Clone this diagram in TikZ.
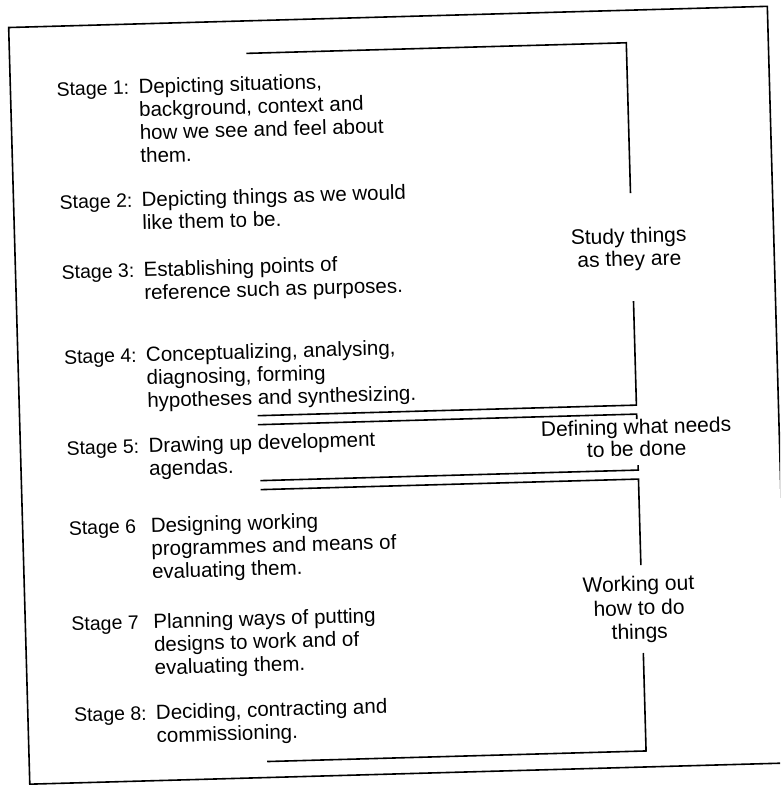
\documentclass[tikz,border=0pt]{standalone}
\usepackage{fontspec}
\setmainfont{Liberation Sans}
\begin{document}
\begin{tikzpicture}[x=1pt,y=-1pt,
  rule/.style={line width=1.6pt, line join=miter},
  txt/.style={anchor=base west, inner sep=0pt, font=\fontsize{20.5}{23}\selectfont},
  stagelabel/.style={anchor=base west, inner sep=0pt, font=\fontsize{19.5}{23}\selectfont},
  side/.style={anchor=base, inner sep=0pt, font=\fontsize{21}{24}\selectfont}]
\useasboundingbox (0,0) rectangle (780,786);
\clip (0,0) rectangle (780,786);
\begin{scope}[rotate around={1.6:(390,393)}, transform shape]
  % outer frame
  \coordinate (ftl) at (19,17);
  \coordinate (fbr) at (778,774);
  \draw[rule] (ftl) rectangle (fbr);

  % stage texts: label column and body column
  \node[stagelabel] (l1) at (65,87) {Stage 1:};
  \node[txt] (t1a) at (147,87) {Depicting situations,};
  \node[txt] (t1b) at (147,110) {background, context and};
  \node[txt] (t1c) at (147,133) {how we see and feel about};
  \node[txt] (t1d) at (147,156) {them.};

  \node[stagelabel] (l2) at (65,200) {Stage 2:};
  \node[txt] (t2a) at (147,200) {Depicting things as we would};
  \node[txt] (t2b) at (147,223) {like them to be.};

  \node[stagelabel] (l3) at (65,270) {Stage 3:};
  \node[txt] (t3a) at (147,270) {Establishing points of};
  \node[txt] (t3b) at (147,293) {reference such as purposes.};

  \node[stagelabel] (l4) at (65,355) {Stage 4:};
  \node[txt] (t4a) at (147,355) {Conceptualizing, analysing,};
  \node[txt] (t4b) at (147,378) {diagnosing, forming};
  \node[txt] (t4c) at (147,401) {hypotheses and synthesizing.};

  \node[stagelabel] (l5) at (65,446) {Stage 5:};
  \node[txt] (t5a) at (147,446) {Drawing up development};
  \node[txt] (t5b) at (147,469) {agendas.};

  \node[stagelabel] (l6) at (65,526) {Stage 6};
  \node[txt] (t6a) at (147,526) {Designing working};
  \node[txt] (t6b) at (147,549) {programmes and means of};
  \node[txt] (t6c) at (147,572) {evaluating them.};

  \node[stagelabel] (l7) at (65,622) {Stage 7};
  \node[txt] (t7a) at (147,622) {Planning ways of putting};
  \node[txt] (t7b) at (147,645) {designs to work and of};
  \node[txt] (t7c) at (147,668) {evaluating them.};

  \node[stagelabel] (l8) at (65,713) {Stage 8:};
  \node[txt] (t8a) at (147,713) {Deciding, contracting and};
  \node[txt] (t8b) at (147,736) {commissioning.};

  % group labels on the right
  \node[side] (g1a) at (633,250) {Study things};
  \node[side] (g1b) at (633,273) {as they are};
  \node[side] (g2a) at (635,441) {Defining what needs};
  \node[side] (g2b) at (635,463) {to be done};
  \node[side] (g3a) at (633,598) {Working out};
  \node[side] (g3b) at (633,622) {how to do};
  \node[side] (g3c) at (633,646) {things};

  % bracket: study things as they are
  \coordinate (a1) at (256,49.5);
  \coordinate (a2) at (636,49.5);
  \coordinate (a3) at (636,200);
  \coordinate (a4) at (636,308);
  \coordinate (a5) at (636,412);
  \coordinate (a6) at (257,412);
  \draw[rule] (a1) -- (a2) -- (a3);
  \draw[rule] (a4) -- (a5) -- (a6);

  % bracket: defining what needs to be done
  \coordinate (m1) at (257,421);
  \coordinate (m2) at (636,421);
  \coordinate (m3) at (636,426);
  \coordinate (m4) at (258,477);
  \coordinate (m5) at (636,477);
  \coordinate (m6) at (636,472);
  \draw[rule] (m1) -- (m2) -- (m3);
  \draw[rule] (m4) -- (m5) -- (m6);

  % bracket: working out how to do things
  \coordinate (w1) at (258,486);
  \coordinate (w2) at (636,486);
  \coordinate (w3) at (636,572);
  \coordinate (w4) at (636,660);
  \coordinate (w5) at (636,758);
  \coordinate (w6) at (257,758);
  \draw[rule] (w1) -- (w2) -- (w3);
  \draw[rule] (w4) -- (w5) -- (w6);
\end{scope}
\end{tikzpicture}
\end{document}
